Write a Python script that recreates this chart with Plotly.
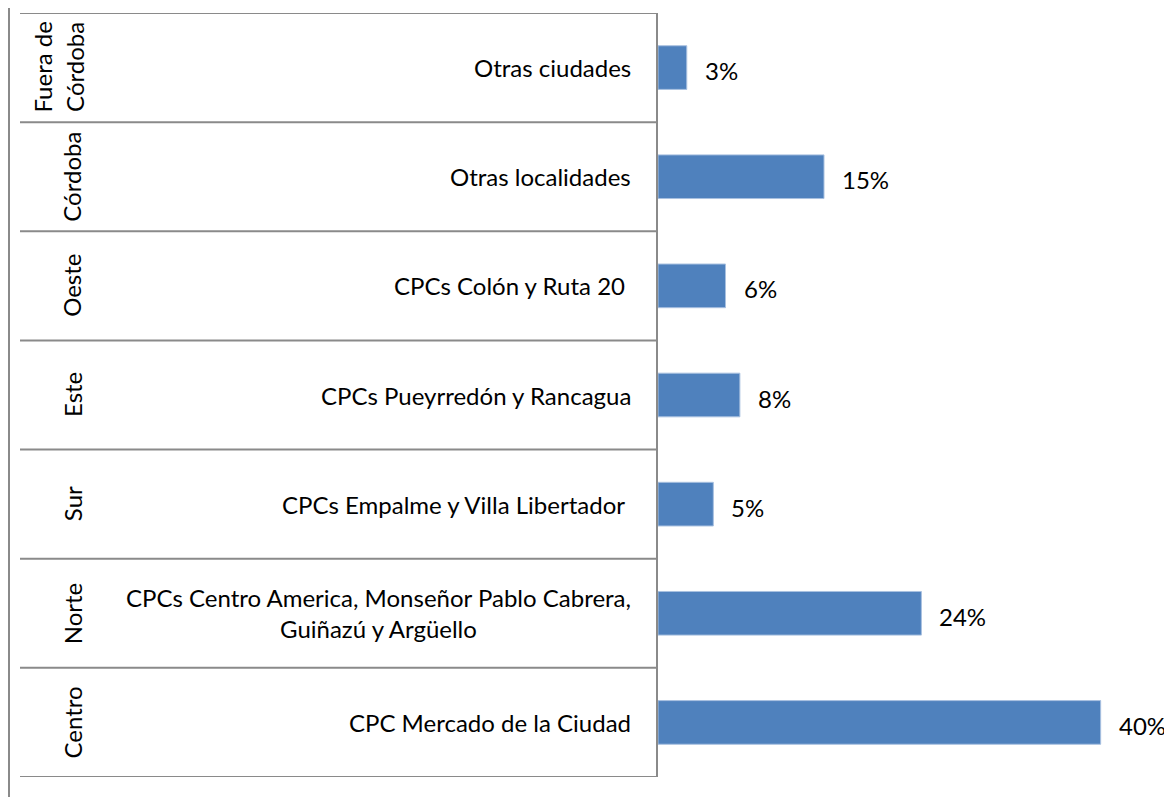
import plotly.graph_objects as go

# Data (bottom to top)
groups = ["Centro", "Norte", "Sur", "Este", "Oeste", "Córdoba", "Fuera de<br>Córdoba"]
categories = [
    "CPC Mercado de la Ciudad",
    "CPCs Centro America, Monseñor Pablo Cabrera,<br>Guiñazú y Argüello",
    "CPCs Empalme y Villa Libertador\u00a0",
    "CPCs Pueyrredón y Rancagua",
    "CPCs Colón y Ruta 20\u00a0",
    "Otras localidades",
    "Otras ciudades",
]
values = [40.0, 23.8, 5.0, 7.4, 6.1, 15.0, 2.6]
value_labels = ["40%", "24%", "5%", "8%", "6%", "15%", "3%"]

OFF = 8  # page body offset
W, H = 1164, 789
ML, MR, MT, MB = 650, 16, 5, 20
PW = W - ML - MR
PH = H - MT - MB

FONT = "Lato"
FS = 24
LINE = "#8a8a8a"

def px_x(px):  # screen px -> paper
    return (px - OFF - ML) / PW

def px_y(py):
    return (H - MB - (py - OFF)) / PH

n = len(categories)
ids = list(range(n))

fig = go.Figure()
fig.add_trace(go.Bar(
    x=values, y=ids, orientation="h",
    marker=dict(color="#4F81BD", line=dict(color="#A9C1E0", width=1)),
    width=0.4, hoverinfo="skip",
))

shapes = []
for i in range(n + 1):
    shapes.append(dict(type="line", xref="paper", yref="y",
                       x0=px_x(20), x1=0, y0=i - 0.5, y1=i - 0.5,
                       line=dict(color=LINE, width=2)))
shapes.append(dict(type="line", xref="paper", yref="paper",
                   x0=px_x(9), x1=px_x(9), y0=px_y(797), y1=px_y(8),
                   line=dict(color=LINE, width=2)))

annotations = []
for i, (g, c, v, lab) in enumerate(zip(groups, categories, values, value_labels)):
    annotations.append(dict(text=c, xref="paper", yref="y", x=0, y=i,
                            xanchor="right", yanchor="middle", xshift=-25,
                            align="center", showarrow=False,
                            font=dict(family=FONT, size=FS, color="#000")))
    gx = 58 if "<br>" in g else 72
    annotations.append(dict(text=g, xref="paper", yref="y", x=px_x(gx), y=i,
                            xanchor="center", yanchor="middle", textangle=-90,
                            align="center", showarrow=False,
                            font=dict(family=FONT, size=FS, color="#000")))
    annotations.append(dict(text=lab, xref="x", yref="y", x=v, y=i,
                            xanchor="left", yanchor="middle", xshift=16, yshift=-3,
                            showarrow=False,
                            font=dict(family=FONT, size=FS, color="#000")))

fig.update_layout(
    width=W, height=H,
    margin=dict(l=ML, r=MR, t=MT, b=MB, pad=0),
    paper_bgcolor="white", plot_bgcolor="white",
    showlegend=False,
    shapes=shapes, annotations=annotations,
    xaxis=dict(range=[0, 45], visible=False, showgrid=False, zeroline=False),
    yaxis=dict(range=[-0.5, n - 0.5], showticklabels=False, showgrid=False,
               zeroline=False, ticks="", showline=True, linecolor=LINE,
               linewidth=2, fixedrange=True),
)

fig.write_html("out.html")
